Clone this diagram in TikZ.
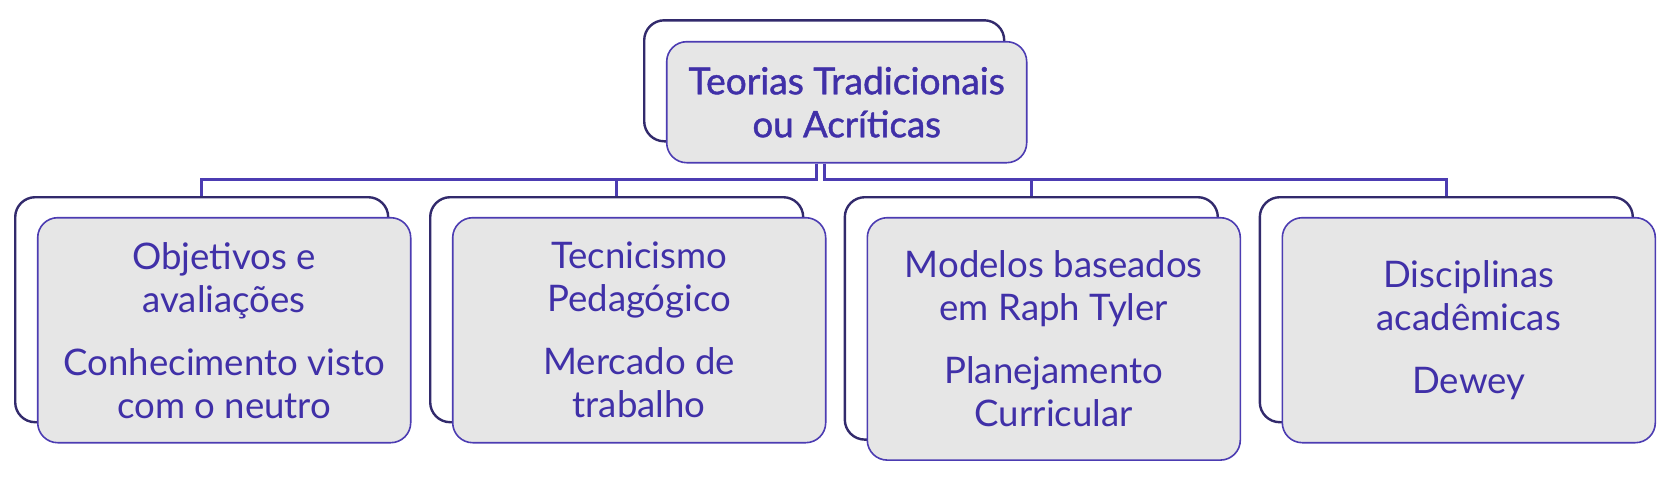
\documentclass[tikz,border=0pt]{standalone}
\usepackage{fontspec}
\setmainfont{Lato}
\newfontfamily\titlefont[FakeBold=1.2]{Lato}
\usetikzlibrary{calc}

\definecolor{ink}{RGB}{64,48,168}
\definecolor{boxline}{RGB}{76,60,178}
\definecolor{frameline}{RGB}{50,42,108}
\definecolor{boxfill}{RGB}{230,230,230}

\begin{document}
\begin{tikzpicture}[x=0.5pt, y=-0.5pt,
  backframe/.style={draw=frameline, line width=1.2pt, fill=white, rounded corners=10pt, minimum width=186.5pt, minimum height=112.5pt},
  frontbox/.style={draw=boxline, line width=0.8pt, fill=boxfill, rounded corners=10pt, minimum width=186.5pt, minimum height=112.5pt,
    align=center, text=ink, inner sep=0pt, font=\fontsize{18.3pt}{21.5pt}\selectfont},
  link/.style={draw=boxline, line width=1.3pt}]

\useasboundingbox (0,0) rectangle (1675,487);

% the root
\node[backframe, minimum width=180pt, minimum height=60.5pt] (topback) at (824.2,80.8) {};
\node[frontbox, minimum width=180pt, minimum height=60.5pt] (top) at (846.7,102.2) {\fontsize{18.6pt}{21.5pt}\titlefont Teorias Tradicionais\\\titlefont ou Acríticas};

% the children
\node[backframe] (back1) at (201.7,309.7) {};
\node[frontbox] (kid1) at (224.2,330.2) {Objetivos e\\avaliações\\[10pt]Conhecimento visto\\com o neutro};

\node[backframe] (back2) at (616.7,309.7) {};
\node[frontbox] (kid2) at (639.2,330.2) {Tecnicismo\\Pedagógico\\[10pt]Mercado de\\trabalho};

\node[backframe, minimum height=121.2pt] (back3) at (1031.3,318.4) {};
\node[frontbox, minimum height=121.2pt] (kid3) at (1053.8,338.9) {Modelos baseados\\em Raph Tyler\\[10pt]Planejamento\\Curricular};

\node[backframe] (back4) at (1446.3,309.7) {};
\node[frontbox] (kid4) at (1468.8,330.2) {Disciplinas\\acadêmicas\\[10pt]Dewey};

% the tree lines
\coordinate (bus) at (0,179.5);
\coordinate (sL) at ($(topback.south |- top.south)+(-4pt,0)$);
\coordinate (sR) at (topback.south |- top.south);
\foreach \b in {back1,back2}
  \draw[link] (sL) -- (sL |- bus) -| (\b.north);
\foreach \b in {back3,back4}
  \draw[link] (sR) -- (sR |- bus) -| (\b.north);

\end{tikzpicture}
\end{document}
